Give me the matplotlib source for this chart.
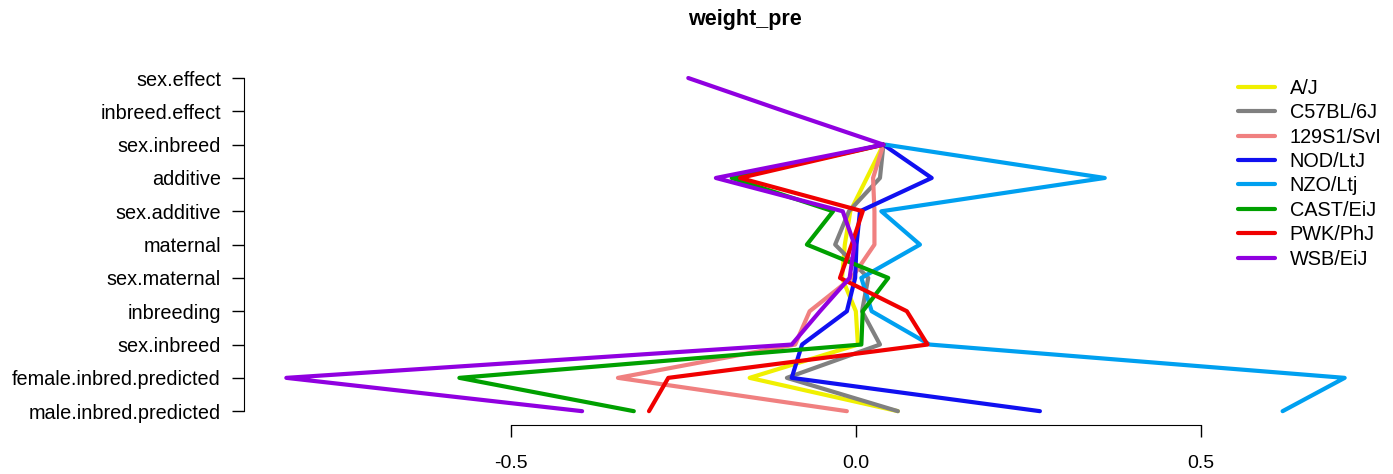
import numpy as np
import matplotlib
matplotlib.use("Agg")
import matplotlib.pyplot as plt

plt.rcParams["font.family"] = ["Liberation Sans", "DejaVu Sans"]

categories = ["sex.effect", "inbreed.effect", "sex.inbreed", "additive", "sex.additive",
              "maternal", "sex.maternal", "inbreeding", "sex.inbreed",
              "female.inbred.predicted", "male.inbred.predicted"]
strains = ["A/J", "C57BL/6J", "129S1/SvI", "NOD/LtJ", "NZO/Ltj", "CAST/EiJ", "PWK/PhJ", "WSB/EiJ"]
colors = ["#F0F000", "#808080", "#F08080", "#1010F0", "#00A0F0", "#00A000", "#F00000", "#9000E0"]
nan = np.nan
AJ    = [nan, nan, 0.040,  0.016, -0.008, -0.016, -0.020,  0.000,  0.003, -0.154,  0.061]
B6    = [nan, nan, 0.040,  0.035, -0.010, -0.030,  0.018,  0.009,  0.035, -0.100,  0.061]
S129  = [nan, nan, 0.040,  0.025,  0.027,  0.027, -0.006, -0.067, -0.088, -0.345, -0.013]
NOD   = [nan, nan, 0.040,  0.110,  0.006,  0.001, -0.001, -0.013, -0.078, -0.093,  0.267]
NZO   = [nan, nan, 0.043,  0.361,  0.037,  0.093,  0.008,  0.023,  0.107,  0.709,  0.619]
CAST  = [nan, nan, 0.040, -0.180, -0.033, -0.071,  0.047,  0.010,  0.008, -0.575, -0.322]
PWK   = [nan, nan, 0.040, -0.168,  0.010, -0.006, -0.023,  0.074,  0.104, -0.272, -0.300]
WSB   = [-0.243, -0.103, 0.040, -0.203, -0.019, -0.002, -0.009, -0.052, -0.093, -0.826, -0.397]
series = [AJ, B6, S129, NOD, NZO, CAST, PWK, WSB]
xticks = [-0.5, 0.0, 0.5]
xticklabels = ["-0.5", "0.0", "0.5"]

W, H = 1393, 474
fig = plt.figure(figsize=(W/100, H/100), dpi=100)
ax = fig.add_axes([244/W, 1-424.5/H, (1387-244)/W, (424.5-64.7)/H])
ypos = np.arange(1, len(categories)+1)
for vals, name, c in zip(series, strains, colors):
    ax.plot(vals, ypos, color=c, lw=3.0, label=name,
            solid_capstyle="round", solid_joinstyle="round")

ax.set_ylim(11.4, 0.6)
allv = np.array([v for s in series for v in s if not np.isnan(v)])
lo, hi = allv.min(), allv.max()
pad = (hi - lo) * 0.04
ax.set_xlim(lo - pad, hi + pad)

for s in ["top", "right"]:
    ax.spines[s].set_visible(False)
ax.spines["left"].set_bounds(1, 11)
ax.spines["bottom"].set_bounds(-0.5, 0.5)
ax.set_yticks(ypos)
ax.set_yticklabels(categories, fontsize=14.3)
ax.set_xticks(xticks)
ax.set_xticklabels(xticklabels, fontsize=14)
ax.tick_params(axis="y", length=8.6, width=1, pad=8)
ax.tick_params(axis="x", length=8.6, width=1, pad=13)
fig.text(745/W, 1-19/H, "weight_pre", fontsize=15.5, fontweight="bold",
         ha="center", va="center")

leg = fig.legend(*ax.get_legend_handles_labels(), loc="upper left",
                 bbox_to_anchor=(1238/W, 1-79/H), frameon=False,
                 fontsize=14.3, handlelength=1.85, labelspacing=0.27, handletextpad=0.75,
                 borderpad=0, borderaxespad=0)
for l in leg.get_lines():
    l.set_linewidth(3.0)

fig.savefig("out.png", dpi=100)
